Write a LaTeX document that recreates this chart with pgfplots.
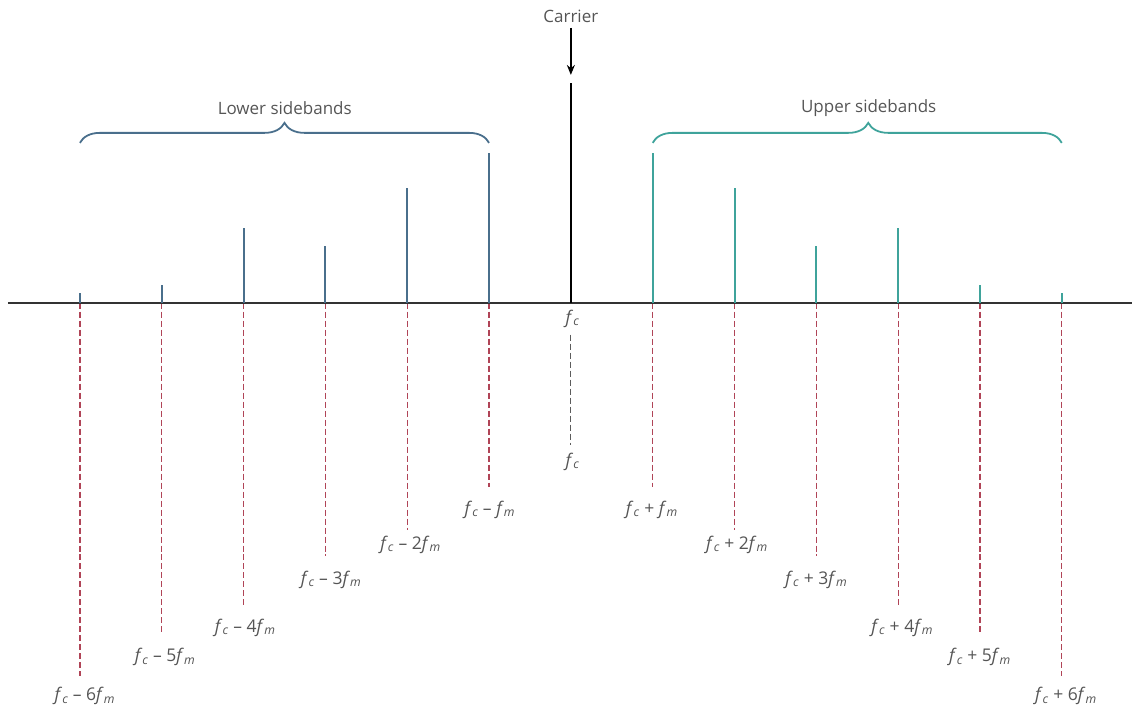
\documentclass[border=0pt]{standalone}
\usepackage{pgfplots}
\pgfplotsset{compat=1.18}
\usepackage{fontspec}
\setmainfont{Open Sans}
\usetikzlibrary{decorations.pathreplacing,arrows.meta}
\definecolor{lowblue}{HTML}{4A6F8C}
\definecolor{upteal}{HTML}{3FA39B}
\definecolor{dashred}{HTML}{B04457}
\definecolor{txt}{HTML}{555555}
\definecolor{axisc}{HTML}{333333}
\newcommand{\fc}{\textit{f}\textsubscript{\textit{c}}}
\newcommand{\fm}{\textit{f}\textsubscript{\textit{m}}}
\tikzset{lab/.style={font=\fontsize{17.5}{20}\selectfont, text=txt, inner sep=0pt},
         ttl/.style={font=\fontsize{17}{20}\selectfont, text=txt, inner sep=0pt}}
\begin{document}
\begin{tikzpicture}
\begin{axis}[scale only axis, width=1133pt, height=709pt,
  xmin=-6.977, xmax=6.857, ymin=-406, ymax=303, hide axis, clip=false]
\path (rel axis cs:0,0) rectangle (rel axis cs:1,1);
% red dashed guides below the axis
\addplot[ycomb, dashred, line width=1.2pt, dash pattern=on 6pt off 3pt] coordinates {
 (-6,-374) (-5,-332) (-4,-305) (-3,-254) (-2,-227) (-1,-184)
 (1,-184) (2,-227) (3,-254) (4,-305) (5,-332) (6,-374)};
% carrier dashed guide
\addplot[axisc!80, line width=1.2pt, dash pattern=on 6pt off 3pt] coordinates {(0,-32) (0,-142)};
% frequency axis
\addplot[axisc, line width=2.2pt] coordinates {(-6.88,0) (6.857,0)};
% lower sidebands
\addplot[ycomb, lowblue, line width=2pt] coordinates {
 (-6,10) (-5,18) (-4,75) (-3,57) (-2,115) (-1,150)};
% carrier
\addplot[ycomb, black, line width=2pt] coordinates {(0,220)};
% upper sidebands
\addplot[ycomb, upteal, line width=2pt] coordinates {
 (1,150) (2,115) (3,57) (4,75) (5,18) (6,10)};
% braces
\draw[lowblue, line width=1.8pt, decorate, decoration={brace, amplitude=20pt}]
  (axis cs:-6,160) -- (axis cs:-1,160);
\draw[upteal, line width=1.8pt, decorate, decoration={brace, amplitude=20pt, aspect=0.527}]
  (axis cs:1,160) -- (axis cs:6,160);
\node[ttl] at (axis cs:-3.497,195) {Lower sidebands};
\node[ttl] at (axis cs:3.64,195) {Upper sidebands};
% carrier label and arrow
\node[ttl] at (axis cs:0,287) {Carrier};
\draw[black, line width=1.5pt, -{Stealth[length=10pt,width=8pt]}] (axis cs:0,275) -- (axis cs:0,228);
% frequency labels
\node[lab] at (axis cs:0.02,-16) {\fc};
\node[lab] at (axis cs:0.02,-159) {\fc};
\node[lab] at (axis cs:-5.94,-394) {\fc{} – 6\fm};
\node[lab] at (axis cs:-4.96,-355) {\fc{} – 5\fm};
\node[lab] at (axis cs:-3.98,-325) {\fc{} – 4\fm};
\node[lab] at (axis cs:-2.93,-277) {\fc{} – 3\fm};
\node[lab] at (axis cs:-1.96,-242) {\fc{} – 2\fm};
\node[lab] at (axis cs:-0.99,-207) {\fc{} – \fm};
\node[lab] at (axis cs:0.99,-207) {\fc{} + \fm};
\node[lab] at (axis cs:2.03,-242) {\fc{} + 2\fm};
\node[lab] at (axis cs:3.0,-277) {\fc{} + 3\fm};
\node[lab] at (axis cs:4.05,-325) {\fc{} + 4\fm};
\node[lab] at (axis cs:5.0,-355) {\fc{} + 5\fm};
\node[lab] at (axis cs:6.05,-394) {\fc{} + 6\fm};
\end{axis}
\end{tikzpicture}
\end{document}
